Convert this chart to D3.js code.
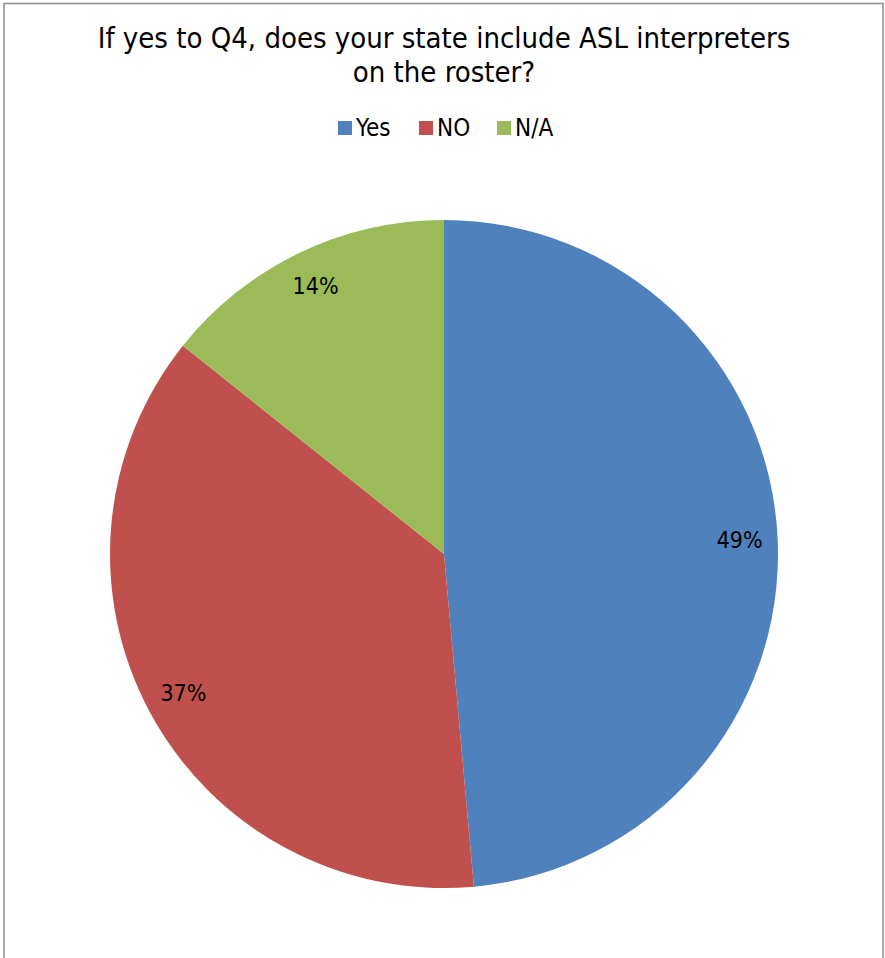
<!DOCTYPE html>
<html><head><meta charset="utf-8">
<script src="https://cdn.jsdelivr.net/npm/d3@7"></script>
<style>body{margin:0;background:#fff;} svg{display:block;}</style>
</head><body>
<script>
const categories = ["Yes", "NO", "N/A"];
const values = [17, 13, 5];
const colors = ["#4F81BD", "#C0504D", "#9BBB59"];
const titleLines = ["If yes to Q4, does your state include ASL interpreters", "on the roster?"];

const W = 885, H = 958;
const font = "'Liberation Sans Narrow', 'Arial Narrow', 'DejaVu Sans Condensed', sans-serif";
const svg = d3.select("body").append("svg").attr("width", W).attr("height", H);
svg.append("rect").attr("x", 4).attr("y", 3.5).attr("width", 879).attr("height", 1000)
  .attr("fill", "#fff").attr("stroke", "#8c8c8c").attr("stroke-width", 1.5);

svg.selectAll("text.title").data(titleLines).join("text")
  .attr("class", "title").attr("x", 444).attr("y", (d, i) => 48 + i * 34)
  .attr("text-anchor", "middle").attr("font-family", font).attr("font-size", 29)
  .attr("fill", "#000").text(d => d);

const total = d3.sum(values);
const data = categories.map((c, i) => ({cat: c, value: values[i], color: colors[i]}));
const cx = 444, cy = 554, r = 334;
const pie = d3.pie().value(d => d.value).sort(null);
const arc = d3.arc().innerRadius(0).outerRadius(r);
const g = svg.append("g").attr("transform", `translate(${cx},${cy})`);
const arcs = pie(data);
g.selectAll("path").data(arcs).join("path").attr("d", arc).attr("fill", d => d.data.color);

const labelArc = d3.arc().innerRadius(r * 0.886).outerRadius(r * 0.886);
g.selectAll("text").data(arcs).join("text")
  .attr("transform", d => `translate(${labelArc.centroid(d)})`)
  .attr("text-anchor", "middle").attr("dy", "0.3em")
  .attr("font-family", font).attr("font-size", 23).attr("fill", "#000")
  .text(d => Math.round(d.data.value / total * 100) + "%");

// legend
const legend = svg.append("g");
const legendX = [338, 419, 497];
const item = legend.selectAll("g").data(data).join("g")
  .attr("transform", (d, i) => `translate(${legendX[i]},128)`);
item.append("rect").attr("x", 0).attr("y", -7).attr("width", 14).attr("height", 14).attr("fill", d => d.color);
item.append("text").attr("x", 18).attr("y", 0).attr("dy", "0.35em")
  .attr("font-family", font).attr("font-size", 24).attr("fill", "#000").text(d => d.cat);
</script>
</body></html>
